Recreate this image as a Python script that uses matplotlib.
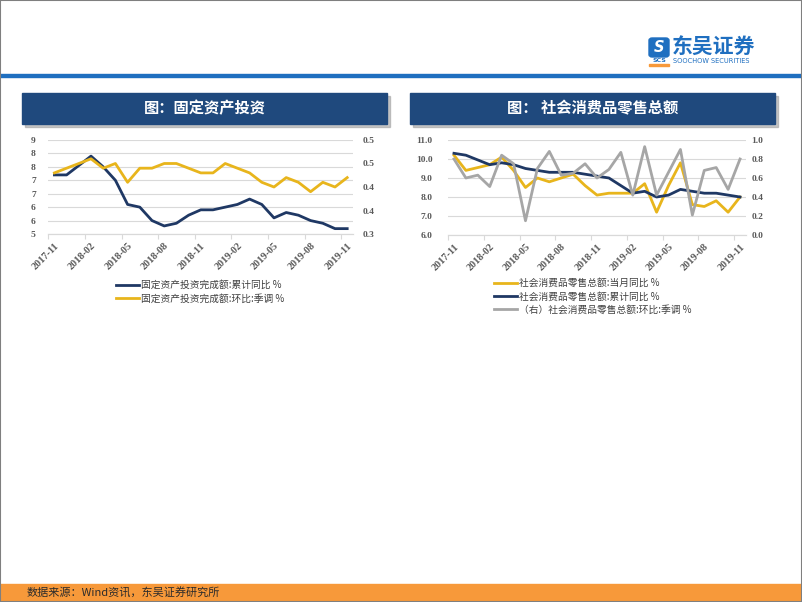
import matplotlib
matplotlib.use('Agg')
import matplotlib.pyplot as plt
from matplotlib.patches import Rectangle, FancyBboxPatch

plt.rcParams['font.family'] = ['Noto Sans CJK SC', 'DejaVu Sans']

# ---------------- data ----------------
months = ['2017-11', '2017-12', '2018-01', '2018-02', '2018-03', '2018-04', '2018-05',
          '2018-06', '2018-07', '2018-08', '2018-09', '2018-10', '2018-11', '2018-12',
          '2019-01', '2019-02', '2019-03', '2019-04', '2019-05', '2019-06', '2019-07',
          '2019-08', '2019-09', '2019-10', '2019-11']

fai_cum = [7.2, 7.2, 7.55, 7.9, 7.5, 7.0, 6.1, 6.0, 5.5, 5.3, 5.4, 5.7, 5.9,
           5.9, 6.0, 6.1, 6.3, 6.1, 5.6, 5.8, 5.7, 5.5, 5.4, 5.2, 5.2]
fai_qoq = [0.43, 0.44, 0.45, 0.46, 0.44, 0.45, 0.41, 0.44, 0.44, 0.45, 0.45, 0.44, 0.43,
           0.43, 0.45, 0.44, 0.43, 0.41, 0.40, 0.42, 0.41, 0.39, 0.41, 0.40, 0.42]

retail_month = [10.2, 9.4, 9.55, 9.7, 10.1, 9.4, 8.5, 9.0, 8.8, 9.0, 9.2, 8.6, 8.1,
                8.2, 8.2, 8.2, 8.7, 7.2, 8.6, 9.8, 7.6, 7.5, 7.8, 7.2, 8.0]
retail_cum = [10.3, 10.2, 9.95, 9.7, 9.8, 9.7, 9.5, 9.4, 9.3, 9.3, 9.3, 9.2, 9.1,
              9.0, 8.6, 8.2, 8.3, 8.0, 8.1, 8.4, 8.3, 8.2, 8.2, 8.1, 8.0]
retail_qoq = [0.80, 0.60, 0.63, 0.51, 0.84, 0.75, 0.15, 0.70, 0.88, 0.63, 0.65, 0.75, 0.60,
              0.69, 0.87, 0.42, 0.93, 0.42, 0.66, 0.90, 0.21, 0.68, 0.71, 0.48, 0.80]

fai_left_ticks = [5.0, 5.5, 6.0, 6.5, 7.0, 7.5, 8.0, 8.5]
fai_left_labels = ['5', '6', '6', '7', '7', '8', '8', '9']
fai_right_ticks = [0.30, 0.35, 0.40, 0.45, 0.50]
fai_right_labels = ['0.3', '0.4', '0.4', '0.5', '0.5']
ret_left_ticks = [6, 7, 8, 9, 10, 11]
ret_left_labels = ['6.0', '7.0', '8.0', '9.0', '10.0', '11.0']
ret_right_ticks = [0.0, 0.2, 0.4, 0.6, 0.8, 1.0]
ret_right_labels = ['0.0', '0.2', '0.4', '0.6', '0.8', '1.0']

label_step = 3

title_left = '图：固定资产投资'
title_right = '图： 社会消费品零售总额'
leg_left = ['固定资产投资完成额:累计同比 %', '固定资产投资完成额:环比:季调 %']
leg_right = ['社会消费品零售总额:当月同比 %', '社会消费品零售总额:累计同比 %',
             '（右）社会消费品零售总额:环比:季调 %']
source = '数据来源：Wind资讯，东吴证券研究所'

NAVY = '#1F3864'
GOLD = '#E8B51C'
GRAY = '#A6A6A6'
GRID = '#D9D9D9'
TXT = '#595959'
W, H = 802, 602


def fx(px):
    return px / W


def fy(py):
    return 1 - py / H


fig = plt.figure(figsize=(W / 100, H / 100), dpi=100)

# page decorations
fig.patches.append(Rectangle((0, fy(77)), 1, 3 / H, transform=fig.transFigure,
                             color='#1F6FC0', zorder=1))
fig.patches.append(Rectangle((0, 0), 1, 18 / H, transform=fig.transFigure,
                             color='#F7993A', zorder=1))
fig.text(fx(27), fy(593), source, fontsize=8, va='center', ha='left', color='#2B2B2B')

# logo
fig.patches.append(FancyBboxPatch((fx(649), fy(57)), fx(669) - fx(649), fy(38) - fy(57),
                                  boxstyle='round,pad=0,rounding_size=0.004',
                                  transform=fig.transFigure, color='#1F6FC0'))
fig.text(fx(659), fy(47.5), 'S', fontsize=10.5, fontweight='bold', style='italic',
         color='white', ha='center', va='center', family='DejaVu Sans')
fig.text(fx(659), fy(61), 'SCS', fontsize=4.5, fontweight='bold', color='#1F6FC0',
         ha='center', va='center', family='DejaVu Sans')
fig.patches.append(Rectangle((fx(649), fy(65.5)), fx(669) - fx(649), 1.5 / H,
                             transform=fig.transFigure, color='#F7993A'))
fig.text(fx(672), fy(47), '东吴证券', fontsize=15, fontweight='bold', color='#1F6FC0',
         ha='left', va='center')
fig.text(fx(673), fy(61), 'SOOCHOW SECURITIES', fontsize=4.8, color='#1F6FC0',
         ha='left', va='center', family='DejaVu Sans')


def banner(x0, x1, y0, y1, text):
    fig.patches.append(Rectangle((fx(x0 + 3), fy(y1 + 3)), fx(x1) - fx(x0), fy(y0) - fy(y1),
                                 transform=fig.transFigure, color='#A0A0A0', alpha=0.6))
    fig.patches.append(Rectangle((fx(x0), fy(y1)), fx(x1) - fx(x0), fy(y0) - fy(y1),
                                 transform=fig.transFigure, color='#1F497D'))
    fig.text(fx((x0 + x1) / 2), fy((y0 + y1) / 2), text, fontsize=11, fontweight='bold',
             color='white', ha='center', va='center')


banner(22, 387, 93, 124, title_left)
banner(410, 775, 93, 124, title_right)

tick_font = dict(family='Liberation Serif', weight='bold', size=6.8)


def setup(ax, axr, lticks, llabels, rticks, rlabels, lpad, rpad):
    n = len(months)
    ax.set_xlim(-0.5, n - 0.5)
    ax.set_ylim(lticks[0], lticks[-1])
    axr.set_ylim(rticks[0], rticks[-1])
    ax.set_yticks(lticks)
    ax.set_yticklabels(llabels, fontdict=tick_font, color=TXT)
    axr.set_yticks(rticks)
    axr.set_yticklabels(rlabels, fontdict=tick_font, color=TXT)
    ax.yaxis.grid(True, color=GRID, lw=0.8)
    ax.set_axisbelow(True)
    for a in (ax, axr):
        for s in ('top', 'left', 'right'):
            a.spines[s].set_visible(False)
        a.spines['bottom'].set_color(GRID)
        a.spines['bottom'].set_linewidth(0.8)
    idx = list(range(0, n, label_step))
    ax.set_xticks(idx)
    ax.set_xticklabels([months[i] for i in idx], fontdict=dict(tick_font, size=7.4),
                       color=TXT, rotation=45, ha='right', va='top', rotation_mode='anchor')
    ax.set_xticks([i - 0.5 for i in idx], minor=True)
    ax.tick_params(axis='x', which='major', length=0, pad=5)
    ax.tick_params(axis='x', which='minor', length=3.5, color=GRID, width=0.8, direction='out')
    ax.tick_params(axis='y', length=0, pad=lpad)
    axr.tick_params(axis='y', length=0, pad=rpad)


x = list(range(len(months)))

# left chart
ax1 = fig.add_axes([fx(48.3), fy(234), fx(353.3) - fx(48.3), fy(140) - fy(234)])
ax1r = ax1.twinx()
l1, = ax1.plot(x, fai_cum, color=NAVY, lw=2.0)
l2, = ax1r.plot(x, fai_qoq, color=GOLD, lw=2.0)
setup(ax1, ax1r, fai_left_ticks, fai_left_labels, fai_right_ticks, fai_right_labels, 9, 7)

# right chart
ax2 = fig.add_axes([fx(448), fy(235), fx(746) - fx(448), fy(140) - fy(235)])
ax2r = ax2.twinx()
r1, = ax2.plot(x, retail_month, color=GOLD, lw=2.0, zorder=3)
r2, = ax2.plot(x, retail_cum, color=NAVY, lw=2.0, zorder=4)
r3, = ax2r.plot(x, retail_qoq, color=GRAY, lw=2.0)
setup(ax2, ax2r, ret_left_ticks, ret_left_labels, ret_right_ticks, ret_right_labels, 11, 4)

legend_kw = dict(loc='upper left', frameon=False, fontsize=7, handlelength=2.4,
                 handletextpad=0.15, labelspacing=0.35, borderpad=0, borderaxespad=0,
                 labelcolor='#404040')
fig.legend([l1, l2], leg_left, bbox_to_anchor=(fx(116), fy(280)), **legend_kw)
fig.legend([r1, r2, r3], leg_right, bbox_to_anchor=(fx(494), fy(278)), **legend_kw)

# outer border
fig.patches.append(Rectangle((0, 0), 1, 1, transform=fig.transFigure, fill=False,
                             edgecolor='#7F7F7F', lw=1.5, zorder=10))

fig.savefig('out.png', dpi=100)
